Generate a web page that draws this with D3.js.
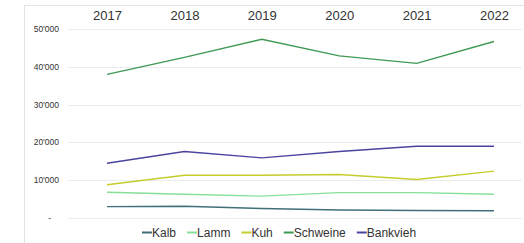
<!DOCTYPE html>
<html>
<head>
<meta charset="utf-8">
<script src="https://cdn.jsdelivr.net/npm/d3@7"></script>
<style>
  body { margin: 0; background: #fff; }
  svg { display: block; font-family: "Liberation Sans", Arial, sans-serif; }
</style>
</head>
<body>
<div id="chart"></div>
<script>
// years along the top
var years = [2017, 2018, 2019, 2020, 2021, 2022];

// values
var kalb     = [3000, 3100, 2500, 2100, 2000, 1900];
var lamm     = [6800, 6300, 5800, 6700, 6700, 6300];
var kuh      = [8800, 11300, 11300, 11500, 10200, 12400];
var schweine = [38000, 42500, 47300, 42900, 40900, 46700];
var bankvieh = [14500, 17600, 15900, 17600, 19000, 19000];

var seriesNames = ["Kalb", "Lamm", "Kuh", "Schweine", "Bankvieh"];
var seriesData = [kalb, lamm, kuh, schweine, bankvieh];
var colors = ["#3f6f78", "#86e09a", "#c5cc2e", "#3e9a55", "#4a43a0"];

var yTicks = [0, 10000, 20000, 30000, 40000, 50000];

var width = 524, height = 243;

var svg = d3.select("#chart").append("svg")
    .attr("width", width)
    .attr("height", height);

// frame lines (top and left)
svg.append("line").attr("x1", 24.5).attr("x2", 24.5).attr("y1", 5).attr("y2", height)
    .attr("stroke", "#e2e2e2");
svg.append("line").attr("x1", 24).attr("x2", width).attr("y1", 5.5).attr("y2", 5.5)
    .attr("stroke", "#e2e2e2");

var x = d3.scalePoint()
    .domain(years)
    .range([107, 494]);

var y = d3.scaleLinear()
    .domain([0, 50000])
    .range([218, 29]);

// gridlines
svg.append("g")
    .selectAll("line")
    .data(yTicks)
    .enter()
    .append("line")
    .attr("x1", 68)
    .attr("x2", 522)
    .attr("y1", function(d) { return Math.round(y(d)) + 0.5; })
    .attr("y2", function(d) { return Math.round(y(d)) + 0.5; })
    .attr("stroke", "#ececec");

// y labels
var fmt = function(d) {
    if (d === 0) return "-";
    return d3.format(",")(d).replace(/,/g, "'");
};
svg.append("g")
    .selectAll("text")
    .data(yTicks)
    .enter()
    .append("text")
    .attr("x", function(d) { return d === 0 ? 51 : 59; })
    .attr("y", function(d) { return y(d) + 3; })
    .attr("text-anchor", "end")
    .attr("font-size", 8.5)
    .attr("fill", "#333")
    .text(fmt);

// x axis on top
var xAxis = svg.append("g")
    .attr("transform", "translate(0,20)")
    .call(d3.axisTop(x).tickSize(0).tickPadding(0));
xAxis.select(".domain").remove();
xAxis.selectAll("text")
    .attr("font-size", 13)
    .attr("font-family", "Liberation Sans, Arial, sans-serif")
    .attr("fill", "#333");

// lines
var line = d3.line()
    .x(function(d, i) { return x(years[i]); })
    .y(function(d) { return y(d); });

svg.append("g")
    .selectAll("path")
    .data(seriesData)
    .enter()
    .append("path")
    .attr("d", line)
    .attr("fill", "none")
    .attr("stroke", function(d, i) { return colors[i]; })
    .attr("stroke-width", 1.4);

// legend
var legend = svg.append("g").attr("transform", "translate(142,237)");
var lx = 0;
seriesNames.forEach(function(name, i) {
    legend.append("line")
        .attr("x1", lx).attr("x2", lx + 10)
        .attr("y1", -4.5).attr("y2", -4.5)
        .attr("stroke", colors[i])
        .attr("stroke-width", 2);
    var t = legend.append("text")
        .attr("x", lx + 10)
        .attr("y", 0)
        .attr("font-size", 12)
        .attr("fill", "#333")
        .text(name);
    lx += 10 + t.node().getComputedTextLength() + 11;
});
</script>
</body>
</html>
